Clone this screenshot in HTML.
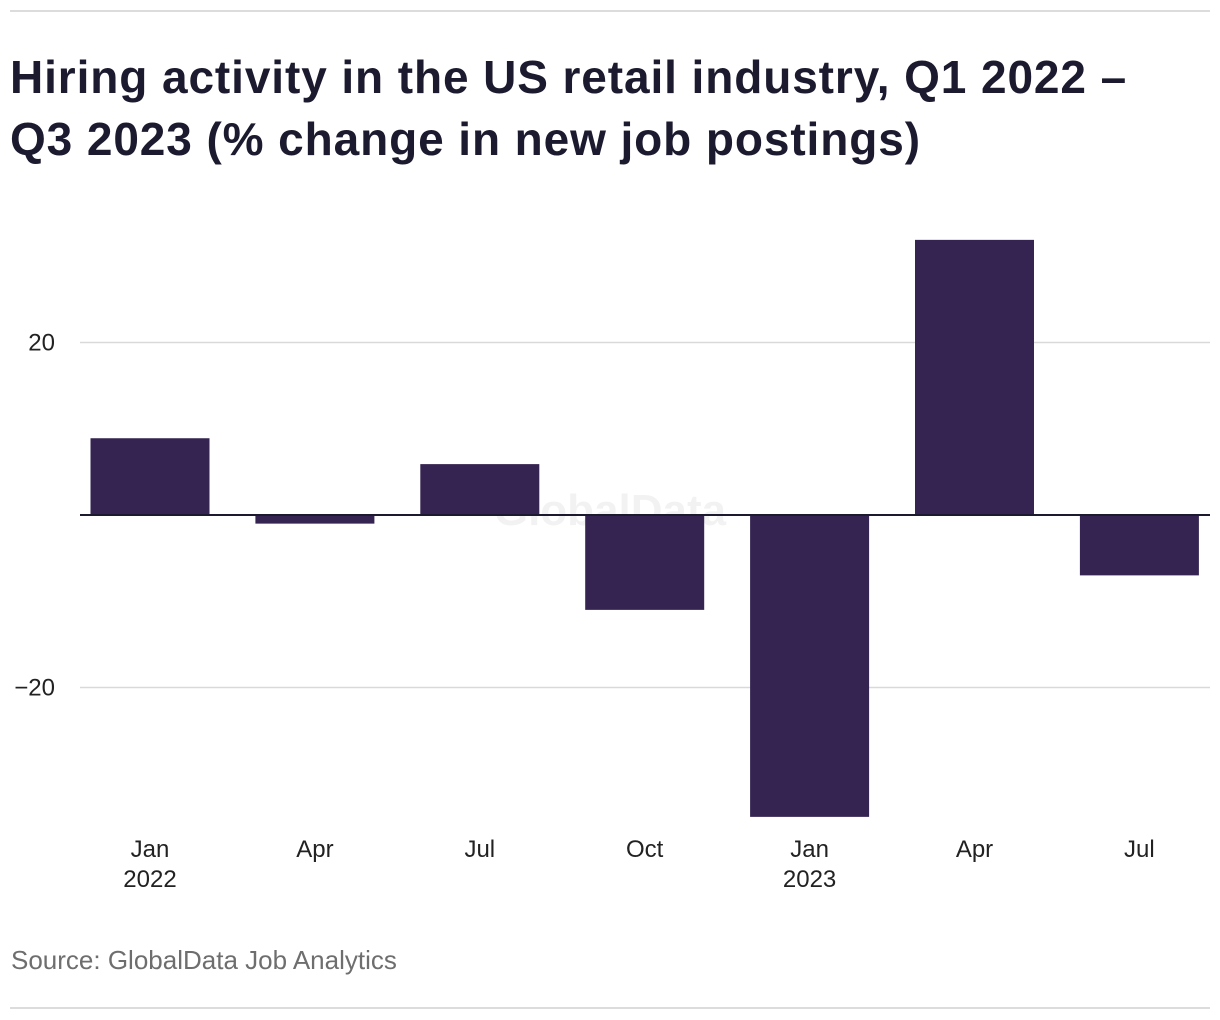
<!DOCTYPE html>
<html><head><meta charset="utf-8">
<style>
body{margin:0;background:#fff;width:1220px;height:1020px;overflow:hidden;font-family:"Liberation Sans",sans-serif;}
.rule{position:absolute;left:10px;width:1200px;height:2px;background:#dcdcdc;}
h1{position:absolute;left:10px;top:46px;margin:0;font-size:46px;line-height:62px;font-weight:bold;color:#1b1a2e;width:1210px;letter-spacing:0.9px;white-space:nowrap;}
.src{position:absolute;left:11px;top:945px;font-size:26px;color:#6e6e6e;}
svg{position:absolute;left:0;top:0;}
</style></head><body>
<div class="rule" style="top:10px"></div>
<h1>Hiring activity in the US retail industry, Q1 2022 –<br>Q3 2023 (% change in new job postings)</h1>
<svg id="chart" width="1220" height="1020"></svg>
<div class="src">Source: GlobalData Job Analytics</div>
<div class="rule" style="top:1007px"></div>
<script>
const categories=["Jan","Apr","Jul","Oct","Jan","Apr","Jul"];
const yearLabels=["2022","","","","2023","",""];
const values=[8.9,-1.0,5.9,-11.0,-35.0,31.9,-7.0];
const yTicks=[20,0,-20];
const yTickLabels=["20","","−20"];
const NS="http://www.w3.org/2000/svg";
const svg=document.getElementById('chart');
const y=v=>515-v*8.625;
const xc=i=>150+i*164.9;
const bw=119;
function mk(t,a){const e=document.createElementNS(NS,t);for(const k in a)e.setAttribute(k,a[k]);svg.appendChild(e);return e;}
yTicks.forEach((t,i)=>{
  if(t!==0){const g=mk('line',{x1:80,x2:1210,y1:y(t),y2:y(t),stroke:'#d9d9d9','stroke-width':1.5});
  
  }
  if(yTickLabels[i]){const l=mk('text',{x:55,y:y(t)+8,'text-anchor':'end','font-size':24,fill:'#222','font-family':'Liberation Sans, sans-serif'});l.textContent=yTickLabels[i];
  
  }
});
const wm=mk('text',{x:610,y:525,'text-anchor':'middle','font-size':44,'font-weight':'bold',fill:'#000','fill-opacity':0.05,'font-family':'Liberation Sans, sans-serif'});wm.textContent='GlobalData';


values.forEach((v,i)=>{
  const top=Math.min(y(v),y(0)),h=Math.abs(y(v)-y(0));
  const r=mk('rect',{x:xc(i)-bw/2,y:top,width:bw,height:h,fill:'#352451'});
  
  
  const l=mk('text',{x:xc(i),y:857,'text-anchor':'middle','font-size':24,fill:'#222','font-family':'Liberation Sans, sans-serif'});l.textContent=categories[i];
  
  
  if(yearLabels[i]){const yl=mk('text',{x:xc(i),y:887,'text-anchor':'middle','font-size':24,fill:'#222','font-family':'Liberation Sans, sans-serif'});yl.textContent=yearLabels[i];
  
  }
});
const z=mk('line',{x1:80,x2:1210,y1:y(0),y2:y(0),stroke:'#1b1a2e','stroke-width':2});


</script>
</body></html>
